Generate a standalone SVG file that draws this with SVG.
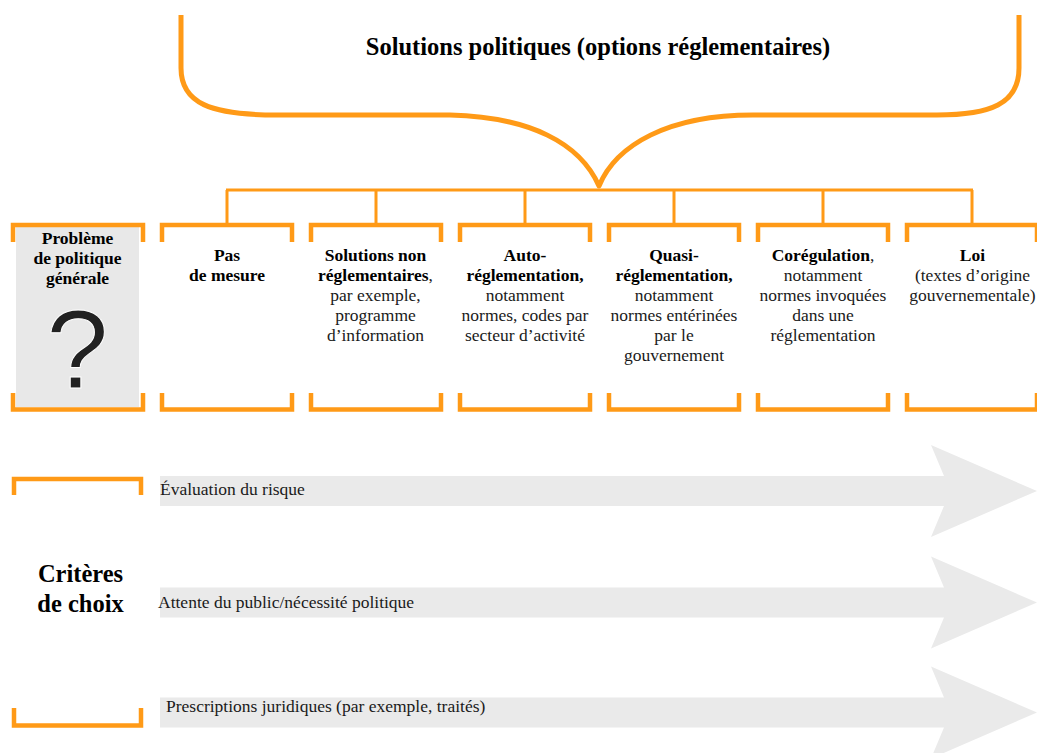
<svg xmlns="http://www.w3.org/2000/svg" width="1037" height="753" viewBox="0 0 1037 753">
  <style>
    .brace { fill: none; stroke: #FF9A17; stroke-width: 5; stroke-linecap: butt; stroke-linejoin: round; }
    .conn { fill: none; stroke: #FF9A17; stroke-width: 3; }
    .bracket { fill: none; stroke: #FF9A17; stroke-width: 4.5; stroke-linejoin: miter; }
    .t { font-family: "Liberation Serif", "Times New Roman", serif; font-size: 17.5px; fill: #1a1a1a; text-anchor: middle; }
    .b { font-weight: bold; fill: #000; }
    .title { font-family: "Liberation Serif", "Times New Roman", serif; font-size: 24.5px; font-weight: bold; fill: #000; text-anchor: middle; }
    .crit { font-family: "Liberation Serif", "Times New Roman", serif; font-size: 17.5px; fill: #1a1a1a; }
    .arrow { fill: #EAEAEA; }
  </style>
  <defs>
    <path id="bracket" d="M0,242 V225 H130 V242 M0,393 V409.5 H130 V393"/>
    <path id="arrowShape" d="M160,-15 H944 L931,-46 L1037,0 L931,46 L944,15 H160 Z"/>
  </defs>

  <rect width="1037" height="753" fill="#fff"/>

  <!-- Curly brace above the options -->
  <g id="brace">
    <path class="brace" d="M181,15 V68 C181,103 210,115 277,115 H450 C530,117 580,143 599,186 C616,145 668,115 753,115 H937 C990,115 1019,104 1019,68 V15"/>
    <text class="title" x="598" y="55">Solutions politiques (options réglementaires)</text>
  </g>

  <!-- Connectors from the brace to each option -->
  <g id="connectors">
    <path class="conn" d="M226,190 H973"/>
    <path class="conn" d="M227,190 V224 M376,190 V224 M525,190 V224 M674,190 V224 M823,190 V224 M972,190 V224"/>
  </g>

  <!-- Policy problem -->
  <g id="node-probleme">
    <rect x="16" y="227" width="123" height="180" fill="#E8E8E8"/>
    <use href="#bracket" class="bracket" transform="translate(13,0)"/>
    <text class="t b" x="77.5" y="244">Problème</text>
    <text class="t b" x="77.5" y="264">de politique</text>
    <text class="t b" x="77.5" y="284">générale</text>
    <text x="77.5" y="388" font-family="Liberation Sans, Arial, sans-serif" font-size="112" fill="#222" text-anchor="middle" stroke="#fff" stroke-width="1">?</text>
  </g>

  <g id="node-pas-de-mesure">
    <use href="#bracket" class="bracket" transform="translate(162,0)"/>
    <text class="t b" x="227" y="261">Pas</text>
    <text class="t b" x="227" y="281">de mesure</text>
  </g>

  <g id="node-non-reglementaires">
    <use href="#bracket" class="bracket" transform="translate(311,0)"/>
    <text class="t b" x="375.5" y="261">Solutions non</text>
    <text class="t" x="375.5" y="281"><tspan class="b">réglementaires</tspan>,</text>
    <text class="t" x="375.5" y="301">par exemple,</text>
    <text class="t" x="375.5" y="321">programme</text>
    <text class="t" x="375.5" y="341">d’information</text>
  </g>

  <g id="node-autoreglementation">
    <use href="#bracket" class="bracket" transform="translate(460,0)"/>
    <text class="t b" x="525" y="261">Auto-</text>
    <text class="t b" x="525" y="281">réglementation,</text>
    <text class="t" x="525" y="301">notamment</text>
    <text class="t" x="525" y="321">normes, codes par</text>
    <text class="t" x="525" y="341">secteur d’activité</text>
  </g>

  <g id="node-quasireglementation">
    <use href="#bracket" class="bracket" transform="translate(609,0)"/>
    <text class="t b" x="674" y="261">Quasi-</text>
    <text class="t b" x="674" y="281">réglementation,</text>
    <text class="t" x="674" y="301">notamment</text>
    <text class="t" x="674" y="321">normes entérinées</text>
    <text class="t" x="674" y="341">par le</text>
    <text class="t" x="674" y="361">gouvernement</text>
  </g>

  <g id="node-coregulation">
    <use href="#bracket" class="bracket" transform="translate(758,0)"/>
    <text class="t" x="823" y="261"><tspan class="b">Corégulation</tspan>,</text>
    <text class="t" x="823" y="281">notamment</text>
    <text class="t" x="823" y="301">normes invoquées</text>
    <text class="t" x="823" y="321">dans une</text>
    <text class="t" x="823" y="341">réglementation</text>
  </g>

  <g id="node-loi">
    <use href="#bracket" class="bracket" transform="translate(907,0)"/>
    <text class="t b" x="972.5" y="261">Loi</text>
    <text class="t" x="972.5" y="281">(textes d’origine</text>
    <text class="t" x="972.5" y="301">gouvernementale)</text>
  </g>

  <!-- Selection criteria -->
  <g id="node-criteres">
    <path class="bracket" d="M14,495 V479 H141 V495 M14,708 V725.5 H141 V708"/>
    <text class="title" x="80.5" y="582">Critères</text>
    <text class="title" x="80.5" y="612">de choix</text>
  </g>

  <g id="arrow-risque">
    <use href="#arrowShape" class="arrow" transform="translate(0,491)"/>
    <text class="crit" x="160" y="495">Évaluation du risque</text>
  </g>

  <g id="arrow-public">
    <use href="#arrowShape" class="arrow" transform="translate(0,602.5)"/>
    <text class="crit" x="158" y="608">Attente du public/nécessité politique</text>
  </g>

  <g id="arrow-juridique">
    <use href="#arrowShape" class="arrow" transform="translate(0,712.5)"/>
    <text class="crit" x="166" y="712">Prescriptions juridiques (par exemple, traités)</text>
  </g>
</svg>
